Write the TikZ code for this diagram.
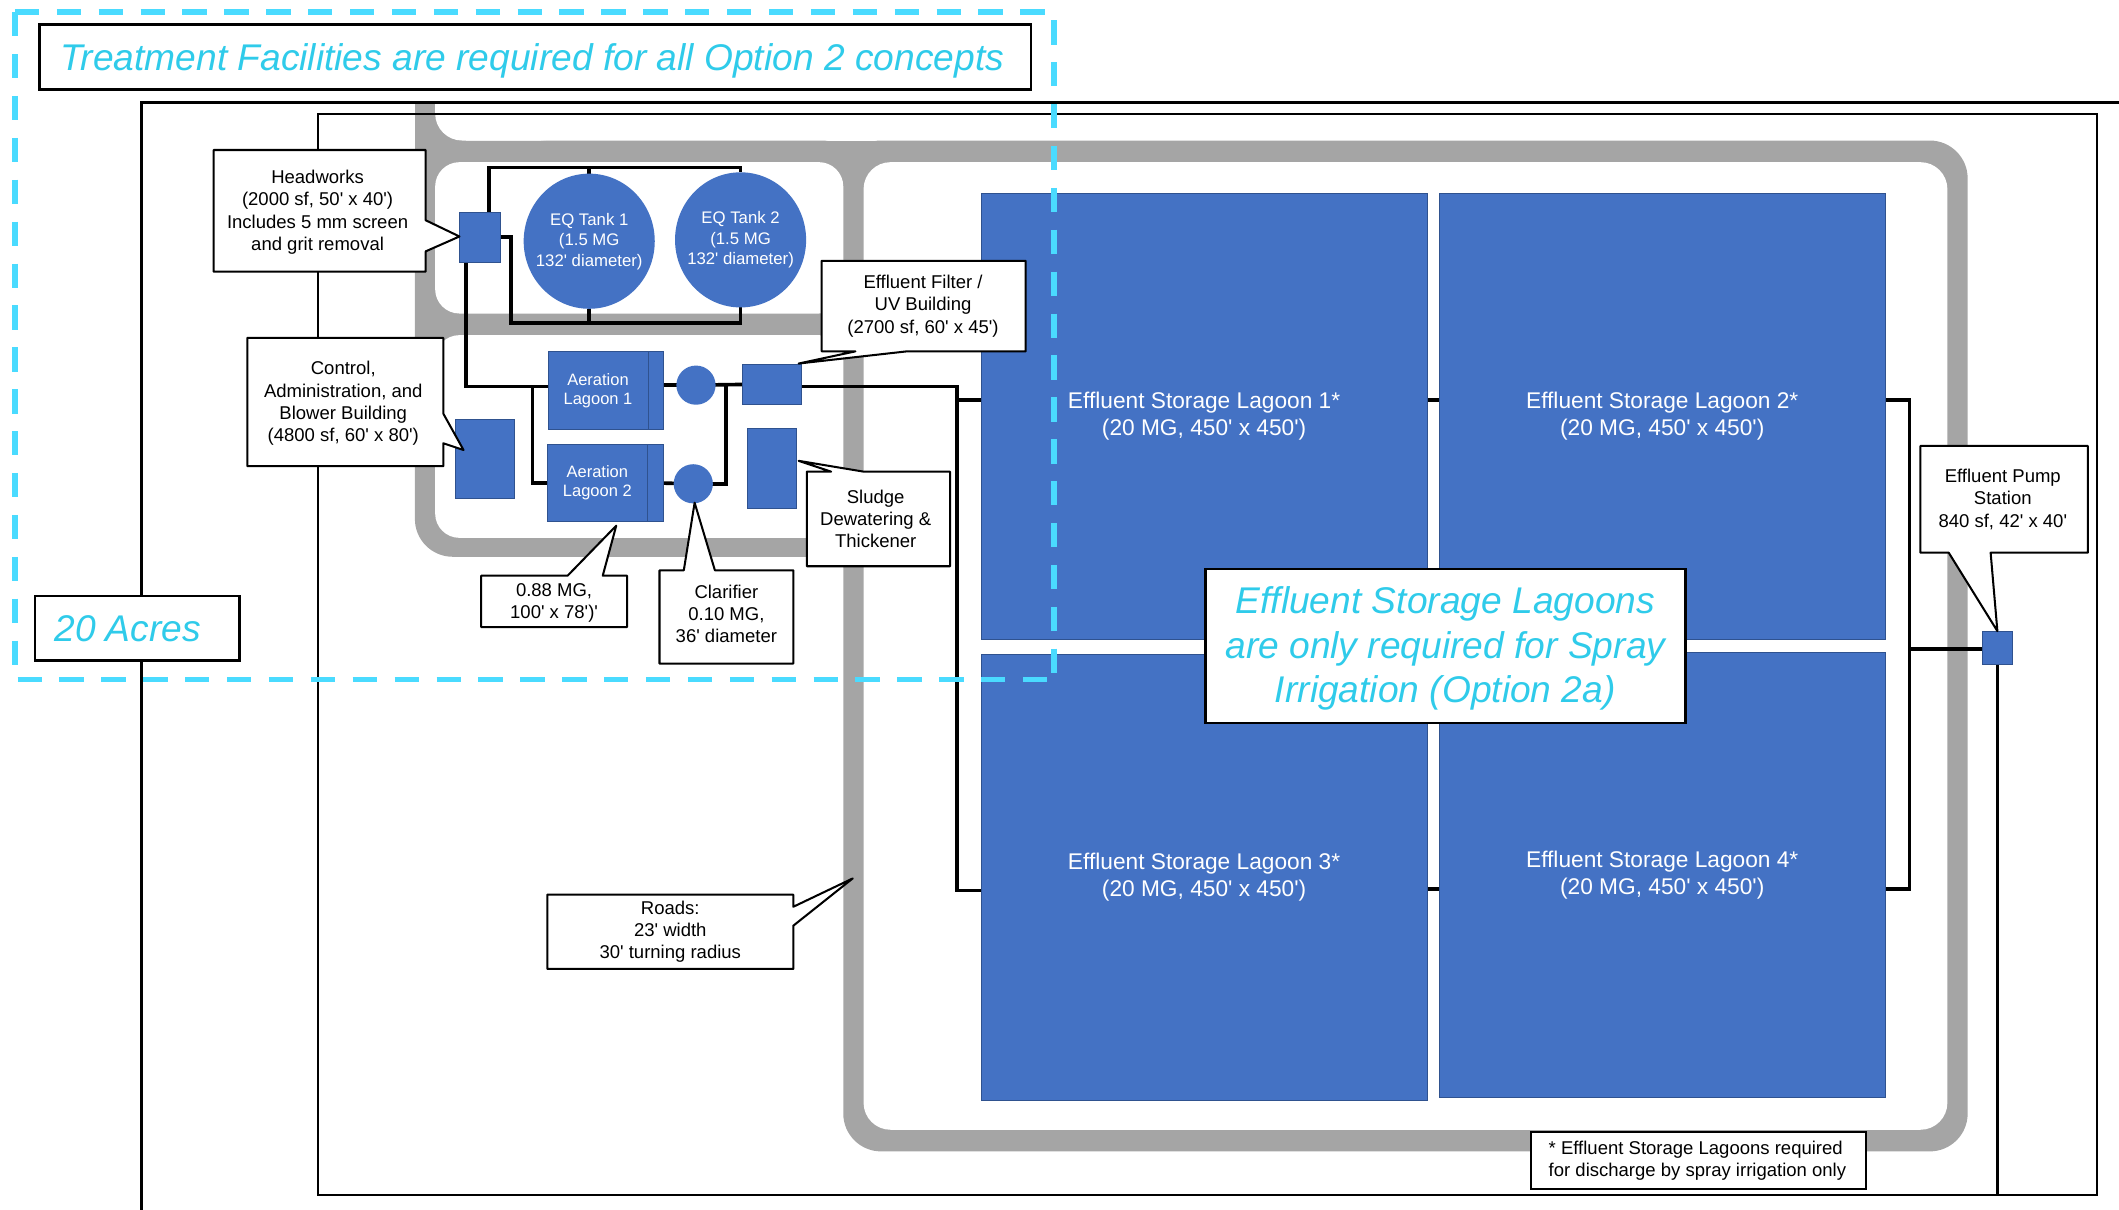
\documentclass[tikz,border=0pt]{standalone}
\usepackage{fontspec}
\setmainfont{Liberation Sans}[Ligatures=TeXOff]
\usetikzlibrary{shapes.geometric}
\definecolor{roadgrey}{HTML}{A5A5A5}
\definecolor{bluefill}{HTML}{4472C4}
\definecolor{blueedge}{HTML}{2F528F}
\definecolor{cyantext}{HTML}{2FCBEA}
\definecolor{cyandash}{HTML}{4ADBFF}
\pgfdeclarelayer{roads}
\pgfdeclarelayer{pipes}
\pgfsetlayers{roads,pipes,main}
\tikzset{
  x=0.5pt,y=-0.5pt,
  plain/.style={inner sep=0pt,outer sep=0pt,align=center},
  block/.style={plain,fill=bluefill,draw=blueedge,line width=0.4pt,text=white,font=\fontsize{8.4}{10}\selectfont},
  unit/.style={plain,fill=bluefill,draw=blueedge,line width=0.3pt},
  smallblue/.style={unit,text=white,font=\fontsize{6.1}{7}\selectfont},
  tank/.style={ellipse,plain,inner xsep=-8pt,inner ysep=-4pt,fill=bluefill,text=white,font=\fontsize{6.2}{7.6}\selectfont},
  label/.style={plain,text=black,font=\fontsize{6.85}{8.2}\selectfont},
  callout/.style={fill=white,draw=black,line width=0.75pt,line join=round},
  note/.style={plain,fill=white,draw=black,line width=1pt,text=cyantext,font=\fontsize{13.75}{16.5}\selectfont\itshape},
  pipe/.style={draw=black,line width=1.35pt,line join=miter},
  dashbox/.style={draw=cyandash,line width=2pt,dash pattern=on 9pt off 6.5pt}
}
\newcommand{\rectnode}[7]{%
  \pgfmathsetmacro\cxv{(#3+#5)/2}\pgfmathsetmacro\cyv{(#4+#6)/2}%
  \pgfmathsetmacro\wv{(#5-#3)*0.5}\pgfmathsetmacro\hv{(#6-#4)*0.5}%
  \node[#1,minimum width=\wv pt,minimum height=\hv pt] (#2) at (\cxv,\cyv) {#7};}
\begin{document}
\begin{tikzpicture}
\useasboundingbox (0,0) rectangle (1568,895.35);
\begin{pgfonlayer}{roads}
% roads
\fill[roadgrey,rounded corners=14pt] (624,104) rectangle (1456,852);
\fill[roadgrey,rounded corners=14pt] (307,104) rectangle (636,412);
\fill[roadgrey] (307,76) rectangle (345,125);
\fill[roadgrey] (590,104) rectangle (670,125);
\fill[roadgrey] (624,412) -- (616,412) .. controls (621,412) and (624,415) .. (624,420) -- cycle;
\fill[white,rounded corners=10pt] (322,50) rectangle (420,104);
\fill[white,rounded corners=9pt] (322,120) rectangle (624,232);
\fill[white,rounded corners=9pt] (322,248) rectangle (624,398);
\fill[white,rounded corners=10pt] (639,120) rectangle (1441,836);
% site frames
\draw[draw=black,line width=1.1pt] (105,900) -- (105,76) -- (1575,76);
\rectnode{plain,draw=black,line width=0.75pt}{site}{235}{84}{1552}{884}{}
\end{pgfonlayer}
% lagoons
\rectnode{block}{l1}{726}{143}{1056}{473}{Effluent Storage Lagoon 1*\\(20 MG, 450' x 450')}
\rectnode{block}{l2}{1065}{143}{1395}{473}{Effluent Storage Lagoon 2*\\(20 MG, 450' x 450')}
\rectnode{block}{l3}{726}{484}{1056}{814}{Effluent Storage Lagoon 3*\\(20 MG, 450' x 450')}
\rectnode{block}{l4}{1065}{483}{1395}{812}{Effluent Storage Lagoon 4*\\(20 MG, 450' x 450')}
% process units
\rectnode{unit}{hw}{340}{157}{370}{194}{}
\node[tank,minimum width=48.5pt,minimum height=50pt] (tk1) at (436,178.5) {EQ Tank 1\\(1.5 MG\\132' diameter)};
\node[tank,minimum width=48.5pt,minimum height=50pt] (tk2) at (548,177.5) {EQ Tank 2\\(1.5 MG\\132' diameter)};
\rectnode{smallblue}{ae1}{406}{260}{491}{318}{\hspace*{-6pt}Aeration\\\hspace*{-6pt}Lagoon 1}
\rectnode{smallblue}{ae2}{405}{329}{491}{386}{\hspace*{-6pt}Aeration\\\hspace*{-6pt}Lagoon 2}
\draw[blueedge,line width=0.5pt] (ae1.north west) ++(74,0) -- ++(0,58);
\draw[blueedge,line width=0.5pt] (ae2.north west) ++(74,0) -- ++(0,57);
\node[ellipse,plain,fill=bluefill,minimum width=14.5pt,minimum height=14.5pt] (cl1) at (515,285) {};
\node[ellipse,plain,fill=bluefill,minimum width=14.5pt,minimum height=14.5pt] (cl2) at (513,358) {};
\rectnode{unit}{ff}{549}{270}{593}{299}{}
\rectnode{unit}{sd}{553}{317}{589}{376}{}
\rectnode{unit}{cb}{337}{310}{381}{369}{}
\rectnode{unit}{pump}{1467}{467}{1489}{492}{}
% pipe points
\coordinate (hwN) at (362,157);
\coordinate (hwS) at (345,194);
\coordinate (topbus) at (436,124);
\coordinate (hwjog) at (378,239);
\coordinate (botbus) at (436,239);
\coordinate (ae1in) at (406,286);
\coordinate (j2) at (394,286);
\coordinate (ae1out) at (491,285);
\coordinate (j3) at (537,285);
\coordinate (ffout) at (593,286);
\coordinate (j4) at (708,659);
\coordinate (j5) at (708,296);
\coordinate (j6) at (708,658);
\coordinate (r1) at (1413,296);
\coordinate (r2) at (1413,658);
\coordinate (r3) at (1413,480);
% pipes
\begin{pgfonlayer}{pipes}
\draw[pipe] (hwN) |- (topbus) -| (tk2.north);
\draw[pipe] (topbus) -- (tk1.north);
\draw[pipe] (hw.east) -| (hwjog) -| (tk2.south);
\draw[pipe] (botbus) -- (tk1.south);
\draw[pipe] (hwS) |- (ae1in);
\draw[pipe] (j2) |- (ae2.west);
\draw[pipe] (ae1out) -- (cl1.center);
\draw[pipe] (cl1.center) -- (ff.west);
\draw[pipe] (j3) |- (cl2.center);
\draw[pipe] (ae2.east) -- (cl2.center);
\draw[pipe] (ffout) -| (j4) -- (j4 -| l3.west);
\draw[pipe] (j5) -- (j5 -| l1.west);
\draw[pipe] (j5 -| l1.east) -- (j5 -| l2.west);
\draw[pipe] (j6 -| l3.east) -- (j6 -| l4.west);
\draw[pipe] (r1 -| l2.east) -- (r1) -- (r2) -- (r2 -| l4.east);
\draw[pipe] (r3) -- (r3 -| pump.west);
\draw[pipe] (pump.south) -- (pump.south |- site.south);
\end{pgfonlayer}
% callouts
\draw[callout] (158,111) -- (315,111) -- (315,163) -- (340,175) -- (315,186) -- (315,201) -- (158,201) -- cycle;
\rectnode{label}{hwt}{155}{112}{315}{202}{Headworks\\(2000 sf, 50' x 40')\\Includes 5 mm screen\\and grit removal}
\draw[callout] (608,193) -- (759,193) -- (759,260) -- (671,260) -- (591,269) -- (633,260) -- (608,260) -- cycle;
\rectnode{label}{fft}{607}{193}{759}{260}{Effluent Filter /\\UV Building\\(2700 sf, 60' x 45')}
\draw[callout] (183,250) -- (328,250) -- (328,306) -- (343,333) -- (328,328) -- (328,345) -- (183,345) -- cycle;
\rectnode{label}{cbt}{180}{251}{328}{346}{Control,\\Administration, and\\Blower Building\\(4800 sf, 60' x 80')}
\draw[callout] (597,349) -- (615,349) -- (591,341) -- (639,349) -- (703,349) -- (703,419) -- (597,419) -- cycle;
\rectnode{label}{sdt}{593}{349}{703}{419}{Sludge\\Dewatering \&\\Thickener}
\draw[callout] (356,426) -- (420,426) -- (456,389) -- (446,426) -- (464,426) -- (464,464) -- (356,464) -- cycle;
\rectnode{label}{aet}{356}{427}{464}{465}{0.88 MG,\\100' x 78')'}
\draw[callout] (488,422) -- (506,422) -- (514,372) -- (529,422) -- (587,422) -- (587,491) -- (488,491) -- cycle;
\rectnode{label}{clt}{488}{420}{587}{489}{Clarifier\\0.10 MG,\\36' diameter}
\draw[callout] (1421,330) -- (1545,330) -- (1545,409) -- (1473,409) -- (1478,467) -- (1442,409) -- (1421,409) -- cycle;
\rectnode{label}{pt}{1419}{330}{1545}{409}{Effluent Pump\\Station\\840 sf, 42' x 40'}
\draw[callout] (405,662) -- (587,662) -- (587,671) -- (631,650) -- (587,685) -- (587,717) -- (405,717) -- cycle;
\rectnode{label}{rt}{405}{662}{587}{717}{Roads:\\23' width\\30' turning radius}
\rectnode{label,fill=white,draw=black,line width=0.75pt}{fn}{1133}{838}{1381}{880}{\hspace*{5pt}\parbox{116pt}{\raggedright * Effluent Storage Lagoons required\\for discharge by spray irrigation only}}
% notes
\rectnode{note}{n1}{29}{18}{763}{66}{\rule{0pt}{13pt}\hspace*{-2pt}Treatment Facilities are required for all Option 2 concepts}
\rectnode{note}{n2}{26}{441}{177}{489}{\rule{0pt}{10pt}\hspace*{-7pt}20 Acres}
\rectnode{note}{n3}{892}{421}{1247}{535}{\rule{0pt}{12pt}Effluent Storage Lagoons\\are only required for Spray\\Irrigation (Option 2a)}
% treatment boundary
\draw[dashbox] (11,9) -- (780,9) -- (780,503);
\draw[dashbox] (11,9) -- (11,503) -- (780,503);
\end{tikzpicture}
\end{document}
